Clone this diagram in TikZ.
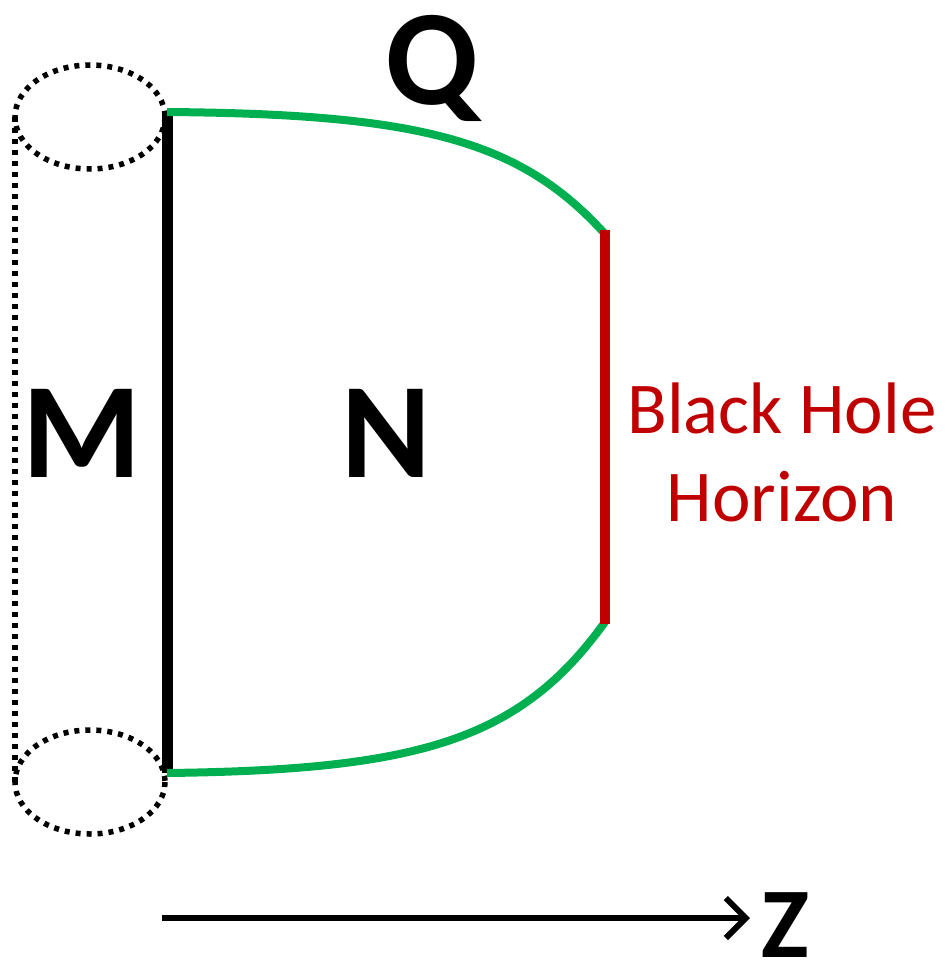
\documentclass[tikz,border=0pt]{standalone}
\usepackage{fontspec}
\setmainfont{Carlito}
\usetikzlibrary{arrows.meta}
\definecolor{gr}{RGB}{0,176,80}
\definecolor{rd}{RGB}{192,0,0}
\begin{document}
\begin{tikzpicture}[x=1pt,y=-1pt,
  dotline/.style={line width=5.5pt,dash pattern=on 5pt off 6pt},
  big/.style={font=\fontsize{136}{136}\selectfont\bfseries,inner sep=0pt,anchor=base},
  lbl/.style={font=\fontsize{73}{88}\selectfont,text=rd,align=center}]
\useasboundingbox (0,0) rectangle (947,966);
% cylinder
\draw[dotline] (90,117) ellipse [x radius=75, y radius=52];
\draw[dotline] (90,782) ellipse [x radius=75, y radius=52];
\coordinate (lt) at (15,117);
\coordinate (lb) at (15,782);
\draw[dotline] (lt) -- (lb);
% boundary
\coordinate (a) at (167,112);
\coordinate (b) at (167,773);
\coordinate (c) at (605,234);
\coordinate (d) at (605,622);
\draw[line width=11pt] (a) -- (b);
\draw[gr,line width=8pt] (a) .. controls (420,114) and (520,140) .. (c);
\draw[gr,line width=8pt] (b) .. controls (420,770) and (520,740) .. (d);
\draw[rd,line width=10pt] (605,230) -- (605,624);
% labels
\node[big] (Q) at (432,104) {Q};
\node[big] (M) at (82,477) {M};
\node[big] (N) at (386,477) {N};
\node[lbl] (H) at (782,452) {Black Hole\\Horizon};
% axis
\coordinate (s) at (162,918);
\coordinate (e) at (750,918);
\draw[line width=6pt,-{Straight Barb[length=20pt,width=40pt,line width=6pt]}] (s) -- (e);
\node[font=\fontsize{100}{100}\selectfont\bfseries,inner sep=0pt,anchor=base] (Z) at (785,957) {Z};
\end{tikzpicture}
\end{document}
